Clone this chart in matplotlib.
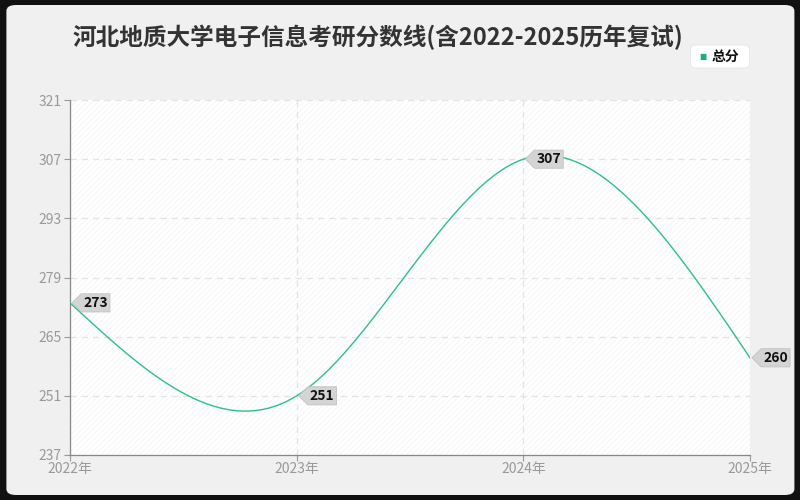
import matplotlib
matplotlib.use("Agg")
import matplotlib.pyplot as plt
import numpy as np
from matplotlib.patches import FancyBboxPatch, Rectangle
from matplotlib.path import Path

plt.rcParams['font.family'] = ['Noto Sans CJK SC', 'DejaVu Sans']
plt.rcParams['hatch.linewidth'] = 0.5

# data
years = ["2022年", "2023年", "2024年", "2025年"]
scores = [273, 251, 307, 260]
yticks = [237, 251, 265, 279, 293, 307, 321]
series_name = "总分"
title = "河北地质大学电子信息考研分数线(含2022-2025历年复试)"

LINE = "#2bbf92"


def natural_spline(x, y, n=200):
    # smooth drawing path through the points
    x = np.asarray(x, float)
    y = np.asarray(y, float)
    k = len(x)
    h = np.diff(x)
    A = np.zeros((k, k))
    b = np.zeros(k)
    A[0, 0] = A[-1, -1] = 1
    for i in range(1, k - 1):
        A[i, i - 1] = h[i - 1]
        A[i, i] = 2 * (h[i - 1] + h[i])
        A[i, i + 1] = h[i]
        b[i] = 6 * ((y[i + 1] - y[i]) / h[i] - (y[i] - y[i - 1]) / h[i - 1])
    M = np.linalg.solve(A, b)
    xs = np.linspace(x[0], x[-1], n)
    idx = np.clip(np.searchsorted(x, xs) - 1, 0, k - 2)
    x0, x1 = x[idx], x[idx + 1]
    hh = x1 - x0
    t0, t1 = x1 - xs, xs - x0
    ys = (M[idx] * t0**3 + M[idx + 1] * t1**3) / (6 * hh) \
        + (y[idx] / hh - M[idx] * hh / 6) * t0 \
        + (y[idx + 1] / hh - M[idx + 1] * hh / 6) * t1
    return xs, ys


def tag_box(x0, y0, width, height, mutation_size):
    # rectangle with a pointed left end
    pad = 0.15 * mutation_size
    x0, y0 = x0 - pad, y0 - pad
    w, h = width + 2 * pad, height + 2 * pad
    tip = 0.5 * h
    verts = [(x0 - tip, y0 + h / 2), (x0, y0), (x0 + w, y0), (x0 + w, y0 + h),
             (x0, y0 + h), (x0 - tip, y0 + h / 2)]
    codes = [Path.MOVETO] + [Path.LINETO] * 4 + [Path.CLOSEPOLY]
    return Path(verts, codes)


fig = plt.figure(figsize=(8, 5), dpi=100, facecolor="#111111")
fig.patches.append(FancyBboxPatch((0.008, 0.01), 0.985, 0.98, boxstyle="round,pad=0,rounding_size=0.012",
                                  transform=fig.transFigure, facecolor="#f0f0f0", edgecolor="none", zorder=-5))

ax = fig.add_axes([0.0875, 0.09, 0.85, 0.71])
ax.set_facecolor("white")
ax.add_patch(Rectangle((0, 0), 1, 1, transform=ax.transAxes, facecolor="none",
                       edgecolor="#f3f3f3", hatch="//////", linewidth=0, zorder=0))

x = np.arange(len(years))
xs, ys = natural_spline(x, scores)
ax.plot(xs, ys, color=LINE, linewidth=1, zorder=3)

for xi, v in zip(x, scores):
    ax.annotate(str(v), (xi, v), xytext=(9.5, 0), textcoords="offset points",
                ha="left", va="center", fontsize=10, fontweight="bold", color="#111111",
                bbox=dict(boxstyle=tag_box, facecolor="#d4d4d4", edgecolor="#c2c2c2", linewidth=0.6),
                zorder=5, annotation_clip=False)

ax.set_xlim(0, 3)
ax.set_ylim(237, 321)
ax.set_yticks(yticks)
ax.set_xticks(x)
ax.set_xticklabels(years)
ax.tick_params(colors="#999999", labelsize=10, length=4, width=0.8)
ax.tick_params(axis="y", pad=2)
ax.tick_params(axis="x", pad=1)
ax.grid(True, linestyle=(0, (5, 4)), color="#e3e3e3", linewidth=0.9)
for s in ["top", "right"]:
    ax.spines[s].set_visible(False)
for s in ["left", "bottom"]:
    ax.spines[s].set_color("#888888")
    ax.spines[s].set_linewidth(0.9)

fig.text(0.473, 0.926, title, ha="center", va="center", fontsize=17, fontweight="bold", color="#333333")

# legend box
fig.patches.append(FancyBboxPatch((0.863, 0.864), 0.074, 0.046, boxstyle="round,pad=0,rounding_size=0.008",
                                  transform=fig.transFigure, facecolor="white", edgecolor="#e6e6e6", linewidth=0.6))
fig.text(0.879, 0.886, "■", ha="center", va="center", fontsize=5.5, color="#16b27e", family="DejaVu Sans")
fig.text(0.890, 0.887, series_name, ha="left", va="center", fontsize=10, fontweight="bold", color="#111111")

fig.savefig("out.png", dpi=100, facecolor=fig.get_facecolor())
